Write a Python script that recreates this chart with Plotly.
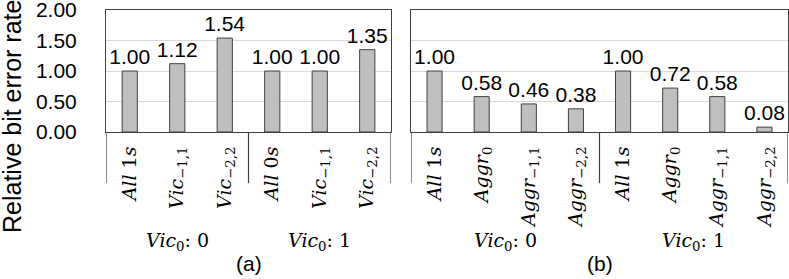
import plotly.graph_objects as go
import numpy as np

# ---------------- data ----------------
cats_a = ["<i>All</i> 1<i>s</i>", "<i>Vic</i><sub>−1,1</sub>", "<i>Vic</i><sub>−2,2</sub>",
          "<i>All</i> 0<i>s</i>", "<i>Vic</i><sub>−1,1</sub>", "<i>Vic</i><sub>−2,2</sub>"]
vals_a = [1.00, 1.12, 1.54, 1.00, 1.00, 1.35]
groups_a = ["<i>Vic</i><sub>0</sub>: 0", "<i>Vic</i><sub>0</sub>: 1"]
group_sizes_a = [3, 3]

cats_b = ["<i>All</i> 1<i>s</i>", "<i>Aggr</i><sub>0</sub>", "<i>Aggr</i><sub>−1,1</sub>", "<i>Aggr</i><sub>−2,2</sub>",
          "<i>All</i> 1<i>s</i>", "<i>Aggr</i><sub>0</sub>", "<i>Aggr</i><sub>−1,1</sub>", "<i>Aggr</i><sub>−2,2</sub>"]
vals_b = [1.00, 0.58, 0.46, 0.38, 1.00, 0.72, 0.58, 0.08]
groups_b = ["<i>Vic</i><sub>0</sub>: 0", "<i>Vic</i><sub>0</sub>: 1"]
group_sizes_b = [4, 4]

panel_labels = ["(a)", "(b)"]
y_title = "Relative bit error rate"
y_ticks = [0.0, 0.5, 1.0, 1.5, 2.0]

# ---------------- layout constants ----------------
W, H = 789, 279
def px(x): return x / W
def py(y): return 1 - y / H

SANS = "Liberation Sans, Arial, sans-serif"
SERIF = "DejaVu Serif, serif"
BAR_FILL = "#BFBFBF"
DARK = "#404040"
GRID = "#D9D9D9"

y_dom = [py(132), py(10)]
label_bottom = py(183)

fig = go.Figure()

panels = [
    ("x", "y", cats_a, vals_a, groups_a, group_sizes_a, [px(106), px(391)]),
    ("x2", "y2", cats_b, vals_b, groups_b, group_sizes_b, [px(411), px(788)]),
]

shapes = []
annotations = []
for i, (xr, yr, cats, vals, groups, gsizes, dom) in enumerate(panels):
    xs = list(range(len(vals)))
    fig.add_trace(go.Bar(
        x=xs, y=vals, xaxis=xr, yaxis=yr, width=0.32,
        marker=dict(color=BAR_FILL, line=dict(color=DARK, width=1)),
        text=[f"{v:.2f}" for v in vals], textposition="outside",
        constraintext="none", cliponaxis=False,
        textfont=dict(family=SANS, size=21, color="#000000"),
        showlegend=False, hoverinfo="skip",
    ))
    axname = "xaxis" if i == 0 else "xaxis2"
    yname = "yaxis" if i == 0 else "yaxis2"
    fig.layout[axname] = dict(
        domain=dom, anchor=yr, range=[-0.5, len(vals) - 0.5],
        tickmode="array", tickvals=xs, ticktext=cats, tickangle=-90,
        tickfont=dict(family=SERIF, size=19, color="#000000"),
        ticks="", ticklabelstandoff=6, automargin=False,
        ticklabeloverflow="allow",
        showline=True, mirror=True, linecolor=DARK, linewidth=1,
        showgrid=False, zeroline=False, fixedrange=True,
    )
    fig.layout[yname] = dict(
        domain=y_dom, anchor=xr, range=[0, 2], tickvals=y_ticks,
        tickformat=".2f", showticklabels=(i == 0),
        tickfont=dict(family=SANS, size=21, color="#000000"),
        ticks="", ticklabelstandoff=24, automargin=False,
        ticklabeloverflow="allow",
        showline=True, mirror=True, linecolor=DARK, linewidth=1,
        showgrid=True, gridcolor=GRID, gridwidth=1, zeroline=False,
        fixedrange=True,
    )
    # group dividers below axis
    bounds = np.concatenate([[0], np.cumsum(gsizes)]) - 0.5
    for b in bounds:
        shapes.append(dict(type="line", xref=xr, yref="paper", x0=b, x1=b,
                           y0=y_dom[0], y1=label_bottom,
                           line=dict(color=DARK, width=1.2)))
    # group labels
    for g, (lo, hi) in zip(groups, zip(bounds[:-1], bounds[1:])):
        annotations.append(dict(text=g, xref=xr, yref="paper", x=(lo + hi) / 2,
                                y=py(241), xanchor="center", yanchor="middle",
                                showarrow=False,
                                font=dict(family=SERIF, size=19, color="#000000")))
    # panel label
    annotations.append(dict(text=panel_labels[i], xref=f"{xr} domain", yref="paper",
                            x=0.5, y=py(263), xanchor="center", yanchor="middle",
                            showarrow=False,
                            font=dict(family=SANS, size=21, color="#000000")))

annotations.append(dict(text=y_title, xref="paper", yref="paper", x=px(12), y=py(117),
                        xanchor="center", yanchor="middle", textangle=-90,
                        showarrow=False,
                        font=dict(family=SANS, size=25, color="#000000")))

fig.update_layout(
    width=W, height=H, autosize=False,
    margin=dict(l=0, r=0, t=0, b=0, autoexpand=False),
    paper_bgcolor="white", plot_bgcolor="white",
    shapes=shapes, annotations=annotations, bargap=0,
)
fig.layout.yaxis2.matches = "y"

fig.write_html("out.html", config={"displayModeBar": False, "staticPlot": True},
               post_script="document.body.style.margin='0';document.body.style.overflow='hidden';")
